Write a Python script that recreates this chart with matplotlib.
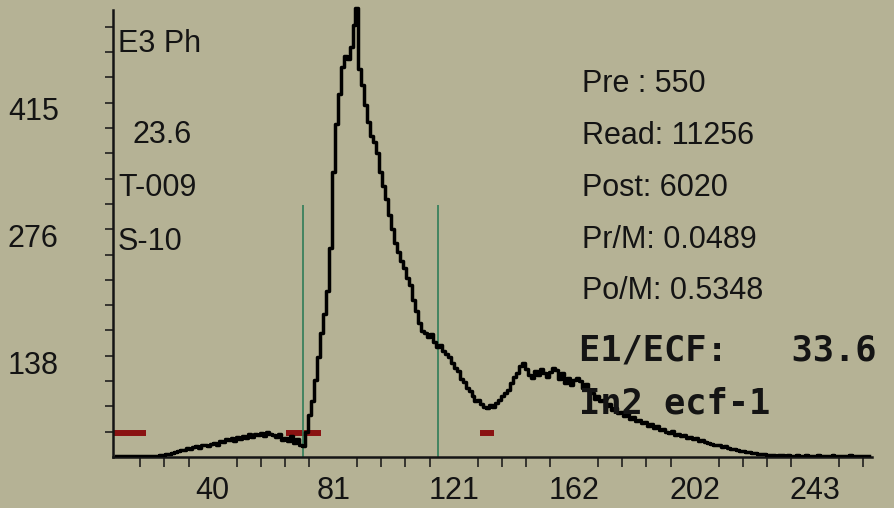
import numpy as np
import matplotlib
matplotlib.use("Agg")
from matplotlib import pyplot as plt

# histogram channels and counts
channels = np.arange(8, 262)
counts = [
    36, 36, 36, 36, 36, 36, 36, 36, 36, 36,
    36, 36, 36, 36, 36, 37, 37, 38, 38, 39,
    40, 41, 42, 42, 44, 43, 45, 46, 44, 47,
    48, 46, 49, 50, 48, 52, 51, 54, 53, 55,
    52, 56, 54, 57, 55, 59, 56, 60, 58, 61,
    57, 62, 59, 58, 56, 60, 53, 55, 52, 57,
    50, 54, 47, 46, 62, 80, 96, 118, 143, 170,
    190, 215, 262, 345, 398, 430, 460, 472, 468, 482,
    505, 524, 458, 440, 418, 400, 384, 378, 366, 345,
    330, 316, 298, 283, 268, 258, 248, 240, 230, 222,
    206, 194, 180, 172, 170, 165, 168, 160, 154, 157,
    150, 147, 144, 137, 132, 128, 120, 116, 110, 106,
    101, 96, 97, 92, 89, 88, 91, 89, 93, 97,
    101, 104, 108, 115, 122, 126, 134, 137, 130, 124,
    121, 128, 124, 130, 126, 122, 127, 131, 129, 120,
    126, 115, 121, 113, 118, 121, 117, 110, 114, 107,
    104, 98, 101, 95, 97, 90, 92, 86, 88, 82,
    84, 79, 81, 76, 78, 74, 75, 71, 73, 68,
    70, 66, 68, 64, 65, 62, 61, 63, 58, 60,
    57, 58, 55, 56, 54, 55, 52, 53, 51, 50,
    49, 48, 47, 47, 45, 46, 44, 43, 43, 42,
    41, 41, 40, 40, 39, 39, 38, 38, 38, 37,
    37, 37, 36, 37, 37, 36, 37, 36, 36, 37,
    36, 36, 37, 36, 36, 36, 37, 36, 36, 36,
    36, 37, 36, 36, 36, 36, 36, 37, 36, 36,
    36, 36, 36, 36,
]

# gate markers
gate_x = [71.0, 116.3]
gate_top = 309
window_level = [60.6, 60.6, 60.6]
window_start = [7.0, 65.2, 130.5]
window_end = [18.2, 77.0, 135.2]

x_tick_vals = [40.5, 81, 121.5, 162, 202.5, 243]
x_tick_labels = ["40", "81", "121", "162", "202", "243"]
y_tick_vals = [138, 276, 415]
y_tick_labels = ["138", "276", "415"]

left_notes = [("E3 Ph", 118, 44), ("23.6", 132, 135), ("T-009", 118, 188), ("S-10", 118, 242)]
right_notes = ["Pre : 550", "Read: 11256", "Post: 6020", "Pr/M: 0.0489", "Po/M: 0.5348"]
right_y = [84, 136, 188, 240, 291]
ratio_lines = [("E1/ECF:   33.6", 351), ("In2 ecf-1", 403)]

bg = "#b5b295"
ink = "#141414"
sans = ["Liberation Sans", "DejaVu Sans"]
W, H = 894, 508

fig = plt.figure(figsize=(W / 100, H / 100), dpi=100, facecolor=bg)
ax = fig.add_axes([113 / W, 51 / H, 781 / W, 457 / H])
ax.set_facecolor(bg)
ax.set_xlim(7.0, 269.5)
ax.set_ylim(34.4, 532.8)

ax.hlines(window_level, window_start, window_end, color="#8a1212", lw=4.3, zorder=2)
ax.vlines(gate_x, 34.4, gate_top, color="#2f7d58", lw=1.2, zorder=2)
ax.step(channels, counts, where="mid", color="black", lw=2.5, zorder=3)

for side in ["top", "right"]:
    ax.spines[side].set_visible(False)
ax.spines["left"].set_bounds(34.4, 522)
ax.spines["bottom"].set_bounds(7.0, 262.2)
for side in ["left", "bottom"]:
    ax.spines[side].set_linewidth(1.8)
    ax.spines[side].set_color(ink)

ax.set_xticks(x_tick_vals)
ax.set_xticklabels(x_tick_labels)
ax.set_yticks(y_tick_vals)
ax.set_yticklabels(y_tick_labels)
ax.set_xticks(8.1 * np.arange(2, 33), minor=True)
ax.set_yticks(34.4 + 27.6 * np.arange(1, 18), minor=True)
ax.tick_params(which="major", length=0, labelsize=22, labelcolor=ink)
ax.tick_params(axis="x", which="major", pad=14)
ax.tick_params(axis="y", which="major", pad=39)
ax.tick_params(axis="x", which="minor", length=7.2, width=1.1, color=ink)
ax.tick_params(axis="y", which="minor", length=5.8, width=1.1, color=ink)
for lab in ax.get_xticklabels() + ax.get_yticklabels():
    lab.set_family(sans)

for txt, px, py in left_notes:
    fig.text(px / W, 1 - py / H, txt, fontsize=22, family=sans, color=ink,
             va="center", ha="left")
for txt, py in zip(right_notes, right_y):
    fig.text(582 / W, 1 - py / H, txt, fontsize=22, family=sans, color=ink,
             va="center", ha="left")
for txt, py in ratio_lines:
    fig.text(579 / W, 1 - py / H, txt, fontsize=25.5, family="DejaVu Sans Mono",
             weight="bold", color=ink, va="center", ha="left")

fig.savefig("out.png", dpi=100, facecolor=bg)
